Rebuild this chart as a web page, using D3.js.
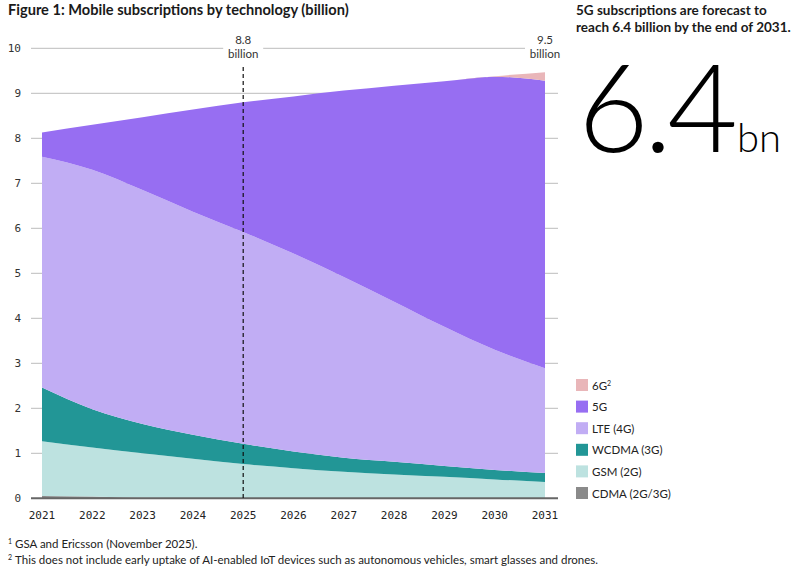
<!DOCTYPE html>
<html>
<head>
<meta charset="utf-8">
<script src="https://cdn.jsdelivr.net/npm/d3@7"></script>
<style>
  body { margin: 0; background: #fff; }
  svg { display: block; }
</style>
</head>
<body>
<svg id="chart" width="800" height="572"></svg>
<script>

// data (billions)
var years = [2021, 2022, 2023, 2024, 2025, 2026, 2027, 2028, 2029, 2030, 2031];
var cdma  = [0.05, 0.04, 0.01, 0, 0, 0, 0, 0, 0, 0, 0];
var gsm   = [1.22, 1.09, 0.99, 0.88, 0.76, 0.67, 0.59, 0.53, 0.48, 0.42, 0.36];
var wcdma = [1.19, 0.85, 0.65, 0.53, 0.45, 0.37, 0.31, 0.28, 0.24, 0.21, 0.20];
var lte   = [5.13, 5.32, 5.20, 4.96, 4.71, 4.40, 4.02, 3.56, 3.09, 2.67, 2.33];
var nr5g  = [0.54, 1.00, 1.62, 2.27, 2.88, 3.49, 4.14, 4.80, 5.46, 6.07, 6.39];
var nr6g  = [0, 0, 0, 0, 0, 0, 0, 0, 0, 0.01, 0.19];

var seriesKeys   = ['cdma', 'gsm', 'wcdma', 'lte', 'nr5g', 'nr6g'];
var seriesLabels = ['CDMA (2G/3G)', 'GSM (2G)', 'WCDMA (3G)', 'LTE (4G)', '5G', '6G'];
var seriesColors = ['#8a8a8a', '#bde2e0', '#229696', '#c1adf4', '#976ef2', '#e9b6b9'];
var yTicks = [0, 1, 2, 3, 4, 5, 6, 7, 8, 9, 10];

var callouts = [
    {year: 2025, value: 8.8, text: ['8.8', 'billion'], line: true},
    {year: 2031, value: 9.5, text: ['9.5', 'billion'], line: false}
];

const monoFont = '"DejaVu Sans Mono", monospace';
const textFont = 'Lato, "Noto Sans", sans-serif';

var rows = years.map(function (y, i) {
    return {year: y, cdma: cdma[i], gsm: gsm[i], wcdma: wcdma[i], lte: lte[i], nr5g: nr5g[i], nr6g: nr6g[i]};
});

var svg = d3.select('#chart');

var x = d3.scaleLinear().domain([2021, 2031]).range([42, 545]);
var y = d3.scaleLinear().domain([0, 10]).range([498.3, 48.3]);

// title
svg.append('text')
    .attr('x', 8).attr('y', 15)
    .style('font-family', textFont)
    .style('font-weight', 700)
    .style('font-size', '14.6px')
    .style('fill', '#1a1a1a')
    .text('Figure 1: Mobile subscriptions by technology (billion)');

// gridlines
var grid = svg.append('g');
grid.selectAll('line')
    .data(yTicks.filter(function (d) { return d > 0; }))
    .enter().append('line')
    .attr('x1', 31).attr('x2', 558)
    .attr('y1', function (d) { return y(d); })
    .attr('y2', function (d) { return y(d); })
    .style('stroke', '#bcbcbc')
    .style('stroke-width', 1);

// y labels
svg.append('g').selectAll('text')
    .data(yTicks)
    .enter().append('text')
    .attr('x', 21)
    .attr('y', function (d) { return y(d) + 4; })
    .attr('text-anchor', 'end')
    .style('font-family', monoFont)
    .style('font-size', '11px')
    .style('fill', '#333')
    .text(function (d) { return d; });

// stacked areas
var stack = d3.stack().keys(seriesKeys);
var layers = stack(rows);

var area = d3.area()
    .x(function (d) { return x(d.data.year); })
    .y0(function (d) { return y(d[0]); })
    .y1(function (d) { return y(d[1]); })
    .curve(d3.curveMonotoneX);

svg.append('g').selectAll('path')
    .data(layers)
    .enter().append('path')
    .attr('d', area)
    .style('fill', function (d, i) { return seriesColors[i]; });

// zero line
svg.append('line')
    .attr('x1', 31).attr('x2', 558)
    .attr('y1', y(0)).attr('y2', y(0))
    .style('stroke', '#666')
    .style('stroke-width', 2);

// x labels
svg.append('g').selectAll('text')
    .data(years)
    .enter().append('text')
    .attr('x', function (d) { return x(d); })
    .attr('y', 519)
    .attr('text-anchor', 'middle')
    .style('font-family', monoFont)
    .style('font-size', '11px')
    .style('fill', '#222')
    .text(function (d) { return d; });

// callouts
callouts.forEach(function (c) {
    var cx = x(c.year);
    if (c.line) {
        svg.append('line')
            .attr('x1', cx).attr('x2', cx)
            .attr('y1', 67).attr('y2', y(0))
            .style('stroke', '#111')
            .style('stroke-width', 1.2)
            .style('stroke-dasharray', '4,3');
    }
    svg.append('rect')
        .attr('x', cx - 20).attr('y', 33)
        .attr('width', 40).attr('height', 30)
        .style('fill', '#fff');
    c.text.forEach(function (t, j) {
        svg.append('text')
            .attr('x', cx).attr('y', 44 + j * 14)
            .attr('text-anchor', 'middle')
            .style('font-family', textFont)
            .style('font-size', '11.5px')
            .style('fill', '#333')
            .text(t);
    });
});

// right panel
var side = svg.append('g');
['5G subscriptions are forecast to', 'reach 6.4 billion by the end of 2031.'].forEach(function (t, i) {
    side.append('text')
        .attr('x', 576).attr('y', 15 + i * 17)
        .style('font-family', textFont)
        .style('font-weight', 700)
        .style('font-size', '13.5px')
        .style('fill', '#1a1a1a')
        .text(t);
});

var big = side.append('text')
    .attr('x', 578).attr('y', 152)
    .style('font-family', 'Lato, Inter, sans-serif')
    .style('font-weight', 300)
    .style('fill', '#000');
big.append('tspan').style('font-size', '122px').style('letter-spacing', '-5px')
    .text(d3.format('.1f')(nr5g[nr5g.length - 1]));
big.append('tspan').style('font-size', '40px').attr('dx', 4).text('bn');

// legend
var legend = svg.append('g');
var legendItems = seriesKeys.map(function (k, i) { return {label: seriesLabels[i], color: seriesColors[i]}; }).reverse();
legendItems.forEach(function (d, i) {
    var ly = 379 + i * 21.6;
    legend.append('rect')
        .attr('x', 576).attr('y', ly)
        .attr('width', 12).attr('height', 12)
        .style('fill', d.color);
    var t = legend.append('text')
        .attr('x', 592).attr('y', ly + 10.5)
        .style('font-family', textFont)
        .style('font-size', '11.5px')
        .style('fill', '#222')
        .text(d.label);
    if (d.label == '6G') {
        t.append('tspan').attr('dy', -4).style('font-size', '7px').text('2');
    }
});

// footnotes
var notes = [
    ['1', 'GSA and Ericsson (November 2025).'],
    ['2', 'This does not include early uptake of AI-enabled IoT devices such as autonomous vehicles, smart glasses and drones.']
];
notes.forEach(function (n, i) {
    var t = svg.append('text')
        .attr('x', 8).attr('y', 548 + i * 16)
        .style('font-family', textFont)
        .style('font-size', '11.5px')
        .style('fill', '#222');
    t.append('tspan').attr('dy', -4).style('font-size', '7px').text(n[0]);
    t.append('tspan').attr('dy', 4).attr('dx', 3).text(n[1]);
});
</script>
</body>
</html>
